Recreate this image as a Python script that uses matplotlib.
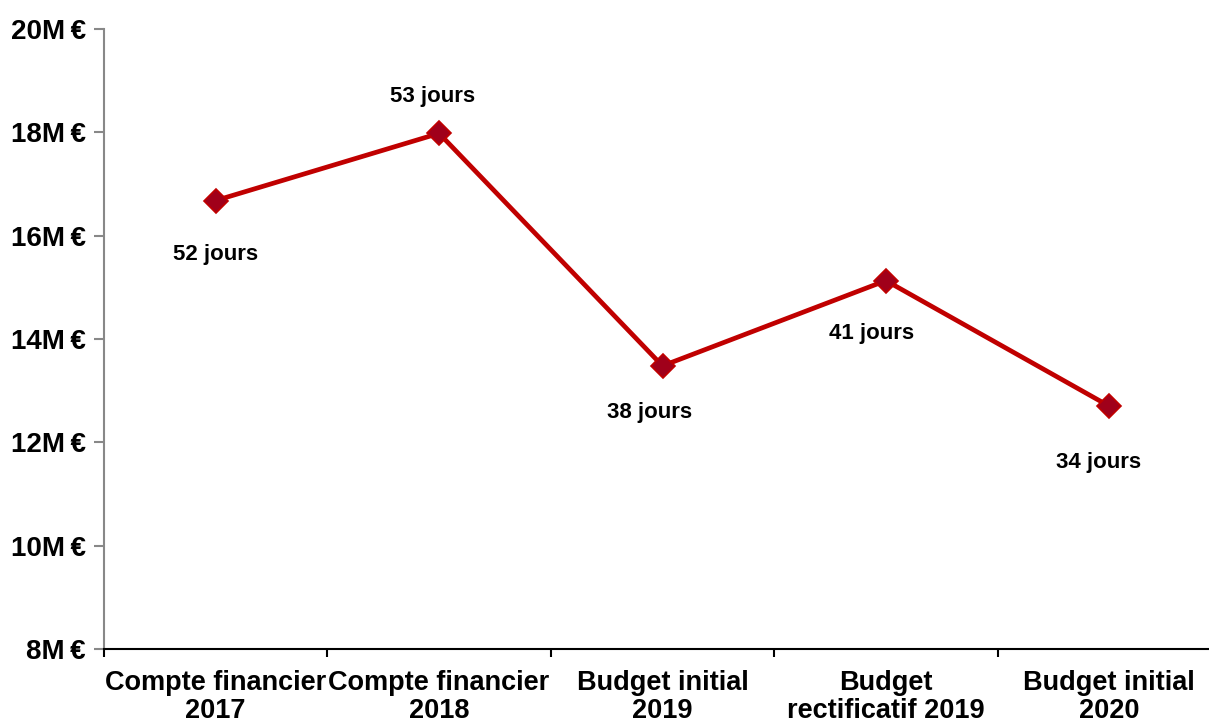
import matplotlib.pyplot as plt
from matplotlib.ticker import FuncFormatter

plt.rcParams['font.family'] = ['Liberation Sans', 'DejaVu Sans']

categories = ["Compte financier\n2017", "Compte financier\n2018", "Budget initial\n2019",
              "Budget\nrectificatif 2019", "Budget initial\n2020"]
values = [16.68, 17.98, 13.48, 15.13, 12.70]
labels = ["52 jours", "53 jours", "38 jours", "41 jours", "34 jours"]
# label offsets in pixels (dx, dy)
label_offsets = [(0, -54), (-7, 37), (-13, -47), (-14, -53), (-11, -56)]

fig = plt.figure(figsize=(12.09, 7.23), dpi=100)
ax = fig.add_axes([104 / 1209, 74 / 723, 1117 / 1209, 620 / 723])

x = list(range(len(categories)))
ax.plot(x, values, color='#c00000', lw=3.4, marker='D', markersize=12,
        markerfacecolor='#a0001a', markeredgecolor='#c00000', markeredgewidth=1.2, zorder=3)

for xi, v, lab, off in zip(x, values, labels, label_offsets):
    ax.annotate(lab, (xi, v), xytext=off, textcoords='offset pixels',
                ha='center', va='center', fontsize=16, fontweight='bold')

ax.set_xlim(-0.5, len(categories) - 0.5)
ax.set_ylim(8, 20)
ax.set_yticks(range(8, 21, 2))
ax.yaxis.set_major_formatter(FuncFormatter(lambda v, p: f"{int(v)}M\u2009€"))
ax.set_xticks(x)
ax.set_xticklabels(categories, fontsize=19.5, fontweight='bold', linespacing=1.1)
ax.set_xticks([i - 0.5 for i in range(len(categories) + 1)], minor=True)
ax.tick_params(axis='x', which='major', length=0, pad=15)
ax.tick_params(axis='x', which='minor', length=6, width=1.5, color='black', direction='out')
ax.tick_params(axis='y', length=7, width=1.5, color='#888888', labelsize=20, pad=6)
for t in ax.get_yticklabels():
    t.set_fontweight('bold')

ax.spines['top'].set_visible(False)
ax.spines['right'].set_visible(False)
ax.spines['left'].set_color('#888888')
ax.spines['left'].set_linewidth(1.5)
ax.spines['bottom'].set_color('black')
ax.spines['bottom'].set_linewidth(1.5)

fig.savefig('out.png', dpi=100)
